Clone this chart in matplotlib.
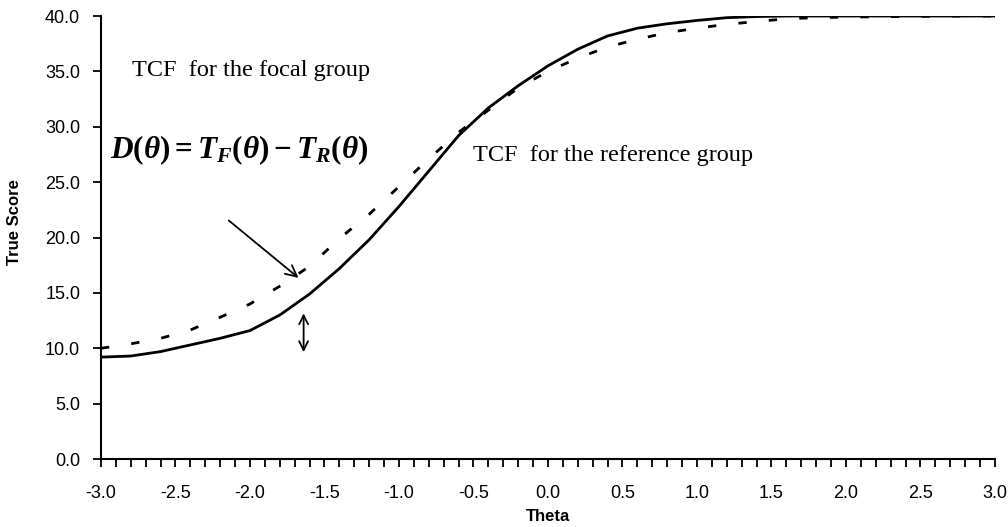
import numpy as np
import matplotlib
matplotlib.use('Agg')
import matplotlib.pyplot as plt
from matplotlib.ticker import MultipleLocator, FormatStrFormatter

# theta grid and true-score values
theta = [-3.0, -2.8, -2.6, -2.4, -2.2, -2.0, -1.8, -1.6, -1.4, -1.2, -1.0,
         -0.8, -0.6, -0.4, -0.2, 0.0, 0.2, 0.4, 0.6, 0.8, 1.0,
         1.2, 1.4, 1.6, 1.8, 2.0, 2.2, 2.4, 2.6, 2.8, 3.0]
tcf_reference = [9.2, 9.3, 9.7, 10.3, 10.9, 11.6, 13.0, 14.9, 17.2, 19.8, 22.8,
                 26.0, 29.2, 31.7, 33.7, 35.5, 37.0, 38.2, 38.9, 39.3, 39.6,
                 39.85, 39.95, 40.0, 40.0, 40.0, 40.0, 40.0, 40.0, 40.0, 40.0]
tcf_focal = [10.0, 10.4, 10.9, 11.65, 12.8, 14.0, 15.6, 17.4, 19.9, 22.1, 24.6,
             27.1, 29.5, 31.5, 33.5, 35.0, 36.2, 37.2, 37.9, 38.5, 38.9,
             39.25, 39.5, 39.75, 39.85, 39.9, 39.93, 39.96, 39.98, 40.0, 40.0]

plt.rcParams['font.family'] = ['Liberation Sans', 'DejaVu Sans']
plt.rcParams['mathtext.fontset'] = 'custom'
plt.rcParams['mathtext.it'] = 'Liberation Serif:bold:italic'
plt.rcParams['mathtext.rm'] = 'Liberation Serif:bold'
plt.rcParams['mathtext.bf'] = 'Liberation Serif:bold'

fig = plt.figure(figsize=(10.08, 5.27), dpi=100)
ax = fig.add_axes([0.1002, 0.129, 0.8868, 0.8406])

ax.plot(theta, tcf_reference, color='black', lw=2.0)
ax.plot(theta, tcf_focal, color='black', lw=2.0, dashes=(3, 8))

ax.set_xlim(-3, 3)
ax.set_ylim(0, 40)
ax.spines['top'].set_visible(False)
ax.spines['right'].set_visible(False)
ax.spines['left'].set_linewidth(1.5)
ax.spines['bottom'].set_linewidth(1.5)

ax.xaxis.set_major_locator(MultipleLocator(0.5))
ax.xaxis.set_minor_locator(MultipleLocator(0.1))
ax.yaxis.set_major_locator(MultipleLocator(5))
ax.xaxis.set_major_formatter(FormatStrFormatter('%.1f'))
ax.yaxis.set_major_formatter(FormatStrFormatter('%.1f'))
ax.tick_params(axis='both', which='both', direction='out', width=1.3, length=6,
               labelsize=13)
ax.tick_params(axis='x', which='both', pad=13)
ax.tick_params(axis='y', pad=9)

ax.set_xlabel('Theta', fontsize=12, fontweight='bold')
ax.xaxis.set_label_coords(0.5, -0.112)
ax.set_ylabel('True Score', fontsize=12, fontweight='bold')
ax.yaxis.set_label_coords(-0.088, 0.535)

serif = ['Liberation Serif', 'DejaVu Serif']
ax.text(-2.79, 35.1, 'TCF  for the focal group', family=serif, fontsize=17.5,
        va='center', ha='left')
ax.text(-0.50, 27.4, 'TCF  for the reference group', family=serif, fontsize=17.5,
        va='center', ha='left')
ax.text(-2.94, 27.9, r'$D(\theta)=T_F(\theta)-T_R(\theta)$',
        fontsize=22.5, va='center', ha='left')

ax.annotate('', xy=(-1.66, 16.2), xytext=(-2.157, 21.7),
            arrowprops=dict(arrowstyle='->', color='black', lw=1.3,
                            mutation_scale=20))
ax.annotate('', xy=(-1.64, 9.4), xytext=(-1.64, 13.4),
            arrowprops=dict(arrowstyle='<->', color='black', lw=1.3,
                            mutation_scale=16))

fig.savefig('out.png', dpi=100)
